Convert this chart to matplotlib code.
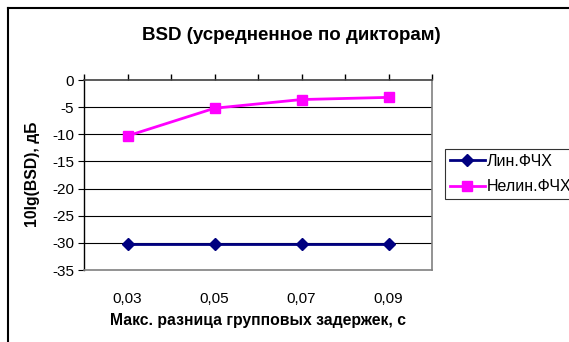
import matplotlib.pyplot as plt
from matplotlib.lines import Line2D

# chart data
categories = ['0,03', '0,05', '0,07', '0,09']
lin_values = [-30.3, -30.3, -30.3, -30.3]
nonlin_values = [-10.3, -5.2, -3.6, -3.2]
series_names = ['Лин.ФЧХ', 'Нелин.ФЧХ']
y_ticks = [0, -5, -10, -15, -20, -25, -30, -35]

plt.rcParams['font.family'] = ['Liberation Sans', 'DejaVu Sans']

fig = plt.figure(figsize=(5.69, 3.42), dpi=100)
fig.patch.set_facecolor('white')

# chart frame (left and top edges only visible)
fig.add_artist(Line2D([8 / 569, 8 / 569], [0, 1 - 8 / 342],
                      transform=fig.transFigure, color='black', lw=1.5))
fig.add_artist(Line2D([8 / 569, 1], [1 - 8 / 342, 1 - 8 / 342],
                      transform=fig.transFigure, color='black', lw=1.5))

ax = fig.add_axes([84 / 569, 1 - 270 / 342, (432 - 84) / 569, (270 - 80) / 342])

x = [i + 0.5 for i in range(len(categories))]
ax.plot(x, lin_values, color='#000080', lw=2, marker='D', markersize=6.5,
        label=series_names[0], clip_on=False, zorder=3)
ax.plot(x, nonlin_values, color='#FF00FF', lw=2, marker='s', markersize=7.5,
        label=series_names[1], clip_on=False, zorder=3)

ax.set_xlim(0, len(categories))
ax.set_ylim(-35, 0)

# horizontal gridlines
for v in y_ticks[1:-1]:
    ax.axhline(v, color='black', lw=0.8, zorder=1)

for side in ('right', 'bottom'):
    ax.spines[side].set_color('#808080')
    ax.spines[side].set_linewidth(1.2)
ax.spines['left'].set_color('black')
ax.spines['left'].set_linewidth(1)
ax.spines['top'].set_color('#404040')
ax.spines['top'].set_linewidth(1.2)

ax.set_yticks(y_ticks)
ax.set_yticklabels([str(v) for v in y_ticks], fontsize=11)
ax.tick_params(axis='y', direction='out', length=4, width=0.8, pad=3)

# category axis crosses at 0: tick marks at the top, labels below the plot
ax.xaxis.set_ticks_position('top')
ax.set_xticks([i * 0.5 for i in range(2 * len(categories) + 1)])
ax.tick_params(axis='x', direction='out', length=4, width=1,
               labeltop=False, labelbottom=False)
for xi, lab in zip(x, categories):
    ax.text(xi, -40.3, lab, ha='center', va='center', fontsize=11,
            clip_on=False)

fig.text(291 / 569, 1 - 35 / 342, 'BSD (усредненное по дикторам)',
         ha='center', va='center', fontsize=13.5, fontweight='bold')
fig.text(258 / 569, 1 - 320 / 342, 'Макс. разница групповых задержек, с',
         ha='center', va='center', fontsize=11.3, fontweight='bold')
fig.text(33 / 569, 1 - 174 / 342, '10lg(BSD), дБ', rotation=90,
         ha='center', va='center', fontsize=11.3, fontweight='bold')

leg = fig.legend(loc='upper left', bbox_to_anchor=(445 / 569, 1 - 149 / 342),
                 frameon=True, fancybox=False, fontsize=11.5,
                 handlelength=2.2, handletextpad=0.1, borderpad=0.3,
                 labelspacing=0.65, borderaxespad=0)
leg.get_frame().set_edgecolor('black')
leg.get_frame().set_linewidth(0.8)

fig.savefig('out.png', dpi=100)
